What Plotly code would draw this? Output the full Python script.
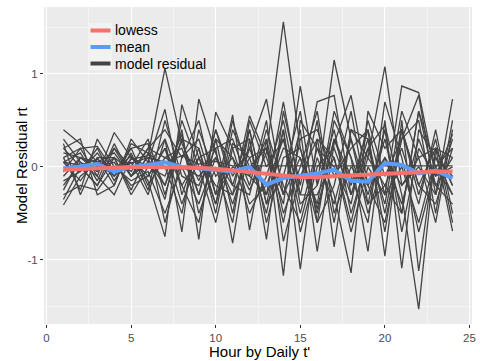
import plotly.graph_objects as go

hours = list(range(1, 25))

residuals = [
    [0.40, 0.25, 0.05, -0.10, 0.08, 0.12, 1.06, 0.25, -0.15, 0.30, 0.10, -0.25, 0.15, 1.56, 0.20, -0.45, 0.30, -0.20, 0.40, -0.30, 0.87, 0.80, -0.10, 0.35],
    [-0.41, -0.10, 0.05, 0.15, -0.10, 0.05, 0.62, -0.30, 0.20, -0.40, 0.25, 0.10, -0.50, 0.40, -1.10, 0.30, 0.10, -0.60, 0.20, 0.45, -0.30, -1.53, 0.20, -0.20],
    [0.10, 0.20, 0.22, -0.05, 0.12, -0.15, -0.75, 0.67, 0.10, -0.20, -0.30, 0.55, 0.10, -0.40, 0.87, -0.20, 1.15, 0.30, -0.50, 0.10, -0.40, 0.30, -0.20, 0.10],
    [-0.20, 0.05, -0.10, 0.37, 0.10, 0.00, 0.30, -0.70, 0.73, 0.15, -0.40, 0.20, 0.73, -0.30, 0.40, -0.91, 0.25, 0.77, -0.20, -0.60, 0.30, 0.77, -0.30, 0.73],
    [0.05, -0.15, 0.10, -0.20, 0.25, 0.15, -0.20, 0.40, -0.78, 0.59, 0.20, -0.40, -0.20, 0.30, -0.30, 0.50, -0.86, 0.40, 0.10, 1.08, -0.20, 0.10, 0.20, -0.69],
    [0.20, 0.00, -0.20, 0.10, -0.05, 0.20, 0.40, 0.10, 0.30, -0.30, 0.56, -0.68, 0.30, -1.17, 0.50, 0.20, -0.30, -1.14, 0.60, 0.20, 0.40, -0.20, -0.40, 0.20],
    [-0.10, 0.10, 0.00, 0.05, -0.20, -0.10, 0.20, -0.40, 0.10, 0.20, -0.82, 0.30, -0.78, 0.60, -0.20, 0.70, 0.77, -0.30, 0.20, -0.40, 0.60, 0.10, -0.60, 0.40],
    [0.00, -0.05, 0.15, -0.10, 0.20, -0.20, 0.10, 0.20, -0.30, 0.40, -0.10, 0.20, -0.30, 0.20, 0.10, -0.40, 0.60, 0.10, -0.91, 0.50, -1.09, 0.40, 0.10, -0.30],
    [0.15, 0.10, -0.05, 0.20, 0.00, 0.30, -0.30, 0.30, 0.20, -0.50, 0.40, 0.00, 0.20, -0.60, 0.30, 0.40, -0.10, 0.20, 0.40, -0.96, 0.50, -1.12, 0.20, 0.10],
    [0.05, 0.02, 0.08, -0.02, 0.04, 0.10, 0.05, 0.12, 0.03, 0.06, 0.01, 0.01, 0.01, 0.01, 0.01, 0.01, 0.01, 0.01, 0.01, 0.01, 0.01, 0.01, 0.01, 0.01],
    [-0.30, -0.20, -0.25, 0.00, -0.15, -0.05, -0.50, 0.00, -0.40, 0.10, -0.20, -0.30, 0.40, -0.20, -0.60, 0.10, -0.40, 0.30, -0.30, 0.30, -0.50, 0.60, -0.20, -0.40],
    [0.25, -0.30, 0.10, 0.10, -0.25, 0.15, 0.00, -0.50, 0.40, -0.10, 0.10, -0.50, -0.10, 0.50, -0.40, -0.20, 0.40, -0.50, 0.10, -0.20, 0.20, -0.40, 0.40, -0.50],
    [-0.05, 0.20, -0.10, -0.30, 0.10, -0.10, 0.20, -0.20, -0.60, 0.30, -0.50, 0.40, -0.40, -0.10, 0.60, -0.60, -0.20, 0.60, -0.40, 0.40, -0.70, 0.20, -0.10, 0.00],
    [0.05, 0.15, -0.15, 0.25, -0.10, 0.10, -0.35, 0.50, 0.00, -0.60, 0.20, 0.30, -0.60, 0.10, 0.20, -0.50, 0.30, -0.10, -0.60, 0.70, 0.10, -0.70, 0.00, 0.20],
    [-0.15, -0.05, 0.20, -0.15, 0.15, -0.25, 0.50, -0.10, -0.20, 0.20, 0.30, -0.20, 0.50, -0.80, -0.10, 0.30, -0.60, 0.40, 0.30, -0.50, 0.40, -0.30, 0.30, -0.60],
    [0.30, 0.05, -0.05, 0.10, -0.30, 0.00, -0.10, 0.35, -0.50, 0.00, -0.60, 0.50, 0.00, 0.30, -0.50, 0.20, 0.00, -0.40, 0.50, -0.10, 0.30, 0.50, -0.50, 0.50],
    [-0.25, 0.10, 0.05, -0.05, 0.20, 0.25, -0.60, 0.10, 0.50, -0.30, 0.00, -0.10, 0.30, -0.50, 0.00, 0.60, -0.50, 0.00, -0.20, 0.10, -0.20, 0.00, -0.30, 0.30],
    [0.10, -0.25, 0.30, 0.00, 0.05, -0.30, 0.30, -0.20, 0.10, -0.40, 0.50, -0.10, -0.30, 0.70, -0.30, -0.30, 0.10, -0.70, 0.00, -0.30, 0.00, -0.60, 0.10, -0.10],
    [-0.35, 0.00, -0.20, 0.20, -0.10, 0.20, 0.10, 0.00, -0.10, 0.10, -0.30, 0.10, 0.20, -0.30, 0.10, -0.60, 0.50, 0.10, -0.40, -0.20, -0.50, 0.60, 0.00, -0.30],
    [0.20, 0.30, -0.30, -0.20, 0.30, 0.05, -0.20, 0.30, -0.30, 0.40, -0.20, 0.40, -0.40, 0.40, -0.70, 0.00, 0.20, -0.30, 0.30, -0.70, 0.40, -0.20, 0.20, -0.20],
]

mean_vals = [-0.02, 0.00, 0.03, -0.05, 0.00, 0.02, 0.05, 0.00, -0.02, -0.03, -0.05, 0.00,
             -0.19, -0.12, -0.10, -0.07, -0.03, -0.15, -0.16, 0.04, 0.02, -0.07, -0.04, -0.12]

lowess_vals = [-0.03, -0.02, -0.01, 0.00, 0.00, 0.00, 0.00, 0.00, -0.01, -0.02, -0.04, -0.06,
               -0.08, -0.10, -0.11, -0.11, -0.10, -0.09, -0.08, -0.07, -0.06, -0.06, -0.05, -0.05]

x_ticks = [0, 5, 10, 15, 20, 25]
y_ticks = [-1, 0, 1]
y_tick_labels = ["-1", "0", "1"]

x_title = "Hour by Daily t'"
y_title = "Model Residual rt"

legend_names = ["lowess", "mean", "model residual"]
legend_colors = ["#F5716B", "#5B9BFA", "#444444"]

GREY = "#444444"
fig = go.Figure()
for s in residuals:
    fig.add_trace(go.Scatter(
        x=hours, y=s, mode="lines",
        line=dict(color=GREY, width=1.3),
        name="model residual", showlegend=False, hoverinfo="skip"))

fig.add_trace(go.Scatter(x=hours, y=mean_vals, mode="lines",
                         line=dict(color=legend_colors[1], width=4), name="mean", showlegend=False))
fig.add_trace(go.Scatter(x=hours, y=lowess_vals, mode="lines",
                         line=dict(color=legend_colors[0], width=4), name="lowess", showlegend=False))

# Manual legend placed inside the panel (paper coords are relative to the plot area)
PL, PR, PT, PB = 44, 472, 7, 324
def px(xp):
    return (xp - PL) / (PR - PL)
def py(yp):
    return (PB - yp) / (PB - PT)

shapes = [dict(type="rect", xref="paper", yref="paper",
               x0=px(88), x1=px(112), y0=py(70), y1=py(23),
               fillcolor="#F2F2F2", line=dict(width=0), layer="above")]
annotations = []
rows = [30.5, 47, 63.5]
for name, col, yr in zip(legend_names, legend_colors, rows):
    shapes.append(dict(type="line", xref="paper", yref="paper",
                       x0=px(90.5), x1=px(110.5), y0=py(yr), y1=py(yr),
                       line=dict(color=col, width=4), layer="above"))
    annotations.append(dict(xref="paper", yref="paper", x=px(113.5), y=py(yr),
                            xanchor="left", yanchor="middle", showarrow=False,
                            borderpad=0,
                            text=name, font=dict(size=14, color="#000000")))

# axis titles placed precisely
annotations.append(dict(xref="paper", yref="paper", x=px(259), y=py(351.5),
                        xanchor="center", yanchor="middle", showarrow=False, borderpad=0,
                        text=x_title, font=dict(size=15, color="#000000")))
annotations.append(dict(xref="paper", yref="paper", x=px(21.5), y=py(165.5),
                        xanchor="center", yanchor="middle", showarrow=False, borderpad=0,
                        textangle=-90, text=y_title, font=dict(size=15, color="#000000")))

fig.update_layout(
    width=480, height=361,
    margin=dict(l=PL, r=480 - PR, t=PT, b=361 - PB),
    paper_bgcolor="white",
    plot_bgcolor="#EBEBEB",
    font=dict(family="Liberation Sans, Arial, sans-serif", color="#000000"),
    showlegend=False,
    shapes=shapes,
    annotations=annotations,
    xaxis=dict(range=[-0.15, 25.15], tickvals=x_ticks, automargin=False,
               showgrid=True, gridcolor="white", gridwidth=1.2,
               minor=dict(dtick=2.5, tick0=0, showgrid=True, gridcolor="#F4F4F4", gridwidth=0.6),
               zeroline=False, ticks="outside", ticklen=3, tickcolor="#333333",
               tickfont=dict(size=11.5, color="#4D4D4D")),
    yaxis=dict(range=[-1.69, 1.72], tickvals=y_ticks, ticktext=y_tick_labels, automargin=False,
               showgrid=True, gridcolor="white", gridwidth=1.2,
               minor=dict(tickvals=[-1.5, -0.5, 0.5, 1.5], showgrid=True, gridcolor="#F4F4F4", gridwidth=0.6),
               zeroline=False, ticks="outside", ticklen=3, tickcolor="#333333",
               tickfont=dict(size=11.5, color="#4D4D4D")),
)

fig.write_html("out.html")
